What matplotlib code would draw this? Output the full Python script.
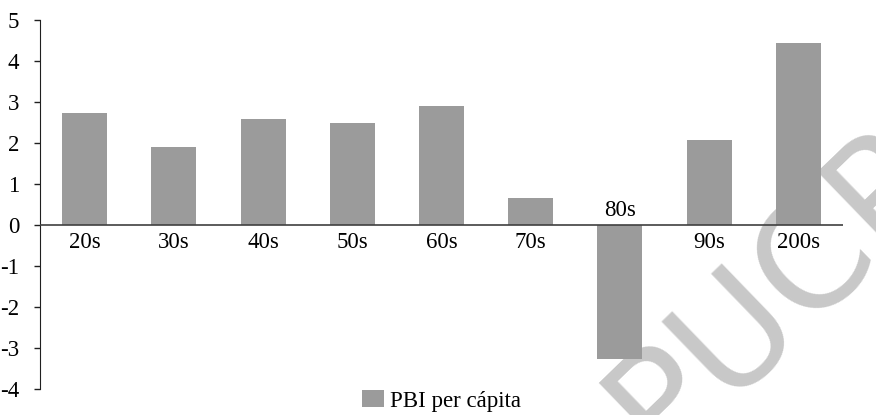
import matplotlib.pyplot as plt

decades = ["20s", "30s", "40s", "50s", "60s", "70s", "80s", "90s", "200s"]
pbi_per_capita = [2.72, 1.90, 2.59, 2.49, 2.90, 0.66, -3.26, 2.07, 4.44]
y_ticks = [5, 4, 3, 2, 1, 0, -1, -2, -3, -4]

plt.rcParams['font.family'] = ['Liberation Serif', 'DejaVu Serif']
FS = 16.5

fig = plt.figure(figsize=(8.76, 4.15), dpi=100)
ax = fig.add_axes([40 / 876, 26 / 415, 803 / 876, 369 / 415])
ax.set_facecolor('none')

# watermark sits behind the axes, anchored at its baseline start
fig.text(660 / 876, -47 / 415, "PUCP", rotation=44, rotation_mode='anchor',
         ha='left', va='baseline', fontsize=108, color='#c8c8c8',
         family='DejaVu Sans', zorder=-5)

x = range(len(decades))
ax.bar(x, pbi_per_capita, width=0.505, color='#9b9b9b', zorder=2,
       label='PBI per cápita')
ax.axhline(0, color='#404040', linewidth=1.2, zorder=3)

for i, (name, v) in enumerate(zip(decades, pbi_per_capita)):
    if v >= 0:
        ax.annotate(name, (i, 0), xytext=(0, -5), textcoords='offset points',
                    ha='center', va='top', fontsize=FS)
    else:
        ax.annotate(name, (i, 0), xytext=(0, 3), textcoords='offset points',
                    ha='center', va='bottom', fontsize=FS)

ax.set_xlim(-0.5, len(decades) - 0.5)
ax.set_ylim(-4, 5)
ax.set_yticks(y_ticks)
ax.set_yticklabels([str(t) for t in y_ticks], fontsize=FS)
ax.set_xticks([])
for side in ['top', 'right', 'bottom']:
    ax.spines[side].set_visible(False)
ax.spines['left'].set_color('#202020')
ax.tick_params(axis='y', length=4, width=1, color='#202020', pad=11)

fig.legend(loc='center', bbox_to_anchor=(441.5 / 876, 14 / 415), frameon=False,
           fontsize=FS, handlelength=1.0, handleheight=0.7, handletextpad=0.26)

fig.savefig('out.png', dpi=100)
